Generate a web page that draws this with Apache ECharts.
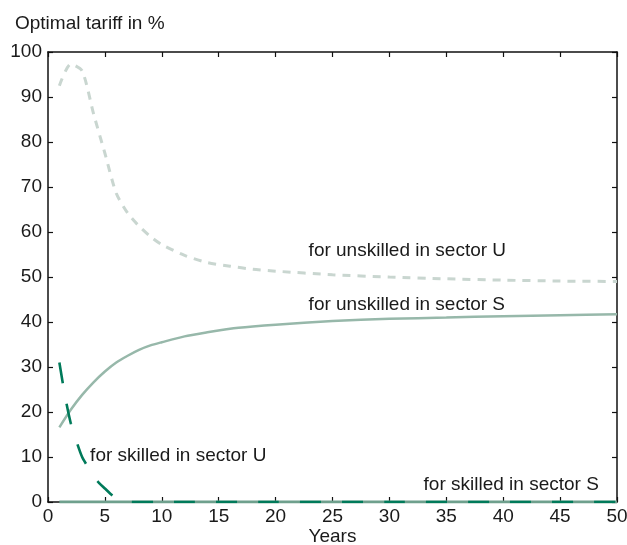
<!DOCTYPE html>
<html>
<head>
<meta charset="utf-8">
<script src="https://cdn.jsdelivr.net/npm/echarts@6/dist/echarts.min.js"></script>
<style>
  html, body { margin: 0; padding: 0; background: #fff; }
  #chart { width: 627px; height: 545px; }
</style>
</head>
<body>
<div id="chart"></div>
<script>
// years and values
const unskUYears = [1, 2, 3, 4, 5, 6, 7, 8, 9, 10, 12, 14, 16, 18, 20, 25, 30, 35, 40, 45, 50]
const unskUValues = [92.5, 97.3, 95.8, 86.3, 77.5, 68.6, 64.2, 61.3, 59, 57.2, 54.8, 53.2, 52.4, 51.7, 51.3, 50.5, 50, 49.6, 49.3, 49.1, 49.0]

const unskSYears = [1, 2, 3, 4, 5, 6, 7, 8, 9, 10, 12, 14, 16, 18, 20, 25, 30, 35, 40, 45, 50]
const unskSValues = [16.6, 20.5, 23.8, 26.6, 29, 31, 32.5, 33.8, 34.8, 35.5, 36.8, 37.7, 38.5, 39, 39.4, 40.2, 40.7, 41, 41.3, 41.5, 41.7]

const skUYears = [1, 1.5, 2, 2.5, 3, 3.5, 4, 4.5, 5, 5.5, 6, 6.5, 7, 8, 10, 20, 30, 40, 50]
const skUValues = [31, 23.5, 17.5, 13.5, 10, 7.8, 5.6, 4.2, 3, 1.8, 0.8, 0.3, 0.05, 0, 0, 0, 0, 0, 0]

const skSYears = [1, 10, 20, 30, 40, 50]
const skSValues = [0, 0, 0, 0, 0, 0]

const xTicks = [0, 5, 10, 15, 20, 25, 30, 35, 40, 45, 50]
const yTicks = [0, 10, 20, 30, 40, 50, 60, 70, 80, 90, 100]

// annotation texts with anchor in data units
const labels = [
  { text: 'for unskilled in sector U', at: [22.9, 55.8] },
  { text: 'for unskilled in sector S', at: [22.9, 43.8] },
  { text: 'for skilled in sector U', at: [3.7, 10.2] },
  { text: 'for skilled in sector S', at: [33.0, 3.8] }
]

const pairs = (xs, ys) => xs.map((x, i) => [x, ys[i]])

const font = 'Liberation Sans, Arial, Helvetica, sans-serif'
const txt = '#1a1a1a'
const fs = 19

const chart = echarts.init(document.getElementById('chart'))

const baseX = {
  type: 'value',
  min: xTicks[0],
  max: xTicks[xTicks.length - 1],
  interval: xTicks[1] - xTicks[0],
  splitLine: { show: false },
  axisLine: { show: true, onZero: false, lineStyle: { color: '#111', width: 1.5 } },
  axisTick: { show: true, inside: true, length: 5, lineStyle: { color: '#111', width: 1.2 } }
}
const baseY = {
  type: 'value',
  min: yTicks[0],
  max: yTicks[yTicks.length - 1],
  interval: yTicks[1] - yTicks[0],
  splitLine: { show: false },
  axisLine: { show: true, onZero: false, lineStyle: { color: '#111', width: 1.5 } },
  axisTick: { show: true, inside: true, length: 5, lineStyle: { color: '#111', width: 1.2 } }
}

const option = {
  animation: false,
  backgroundColor: '#fff',
  grid: { left: 48, right: 10, top: 52, bottom: 43, containLabel: false, outerBoundsMode: 'none' },
  title: {
    text: 'Optimal tariff in %',
    left: 10, top: 9,
    textStyle: { fontFamily: font, fontSize: fs, fontWeight: 'normal', color: txt }
  },
  xAxis: [
    Object.assign({}, baseX, {
      position: 'bottom',
      name: 'Years', nameLocation: 'middle', nameGap: 25, nameMoveOverlap: false,
      nameTextStyle: { fontFamily: font, fontSize: fs, color: txt },
      axisLabel: { fontFamily: font, fontSize: fs, color: txt, margin: 5 }
    }),
    Object.assign({}, baseX, { position: 'top', axisLabel: { show: false } })
  ],
  yAxis: [
    Object.assign({}, baseY, {
      position: 'left',
      axisLabel: { fontFamily: font, fontSize: fs, color: txt, margin: 6 }
    }),
    Object.assign({}, baseY, { position: 'right', axisLabel: { show: false } })
  ],
  series: [
    {
      name: 'for unskilled in sector U', type: 'line', smooth: 0.25, symbol: 'none',
      data: pairs(unskUYears, unskUValues),
      lineStyle: { color: '#c9d6d0', width: 3, type: [8, 7] }
    },
    {
      name: 'for unskilled in sector S', type: 'line', smooth: 0.25, symbol: 'none',
      data: pairs(unskSYears, unskSValues),
      lineStyle: { color: '#97b8aa', width: 2.5 }
    },
    {
      name: 'for skilled in sector S', type: 'line', symbol: 'none',
      data: pairs(skSYears, skSValues),
      lineStyle: { color: '#6fa08d', width: 3 }
    },
    {
      name: 'for skilled in sector U', type: 'line', smooth: 0.25, symbol: 'none',
      data: pairs(skUYears, skUValues),
      lineStyle: { color: '#007a5a', width: 2.6, type: [21, 21] }
    }
  ]
}

chart.setOption(option)

// place annotations through the axes
chart.setOption({
  graphic: labels.map(l => {
    const p = chart.convertToPixel({ xAxisIndex: 0, yAxisIndex: 0 }, l.at)
    return {
      type: 'text', x: p[0], y: p[1],
      style: { text: l.text, fontFamily: font, fontSize: fs, fill: txt, verticalAlign: 'middle', align: 'left' }
    }
  })
})
</script>
</body>
</html>
